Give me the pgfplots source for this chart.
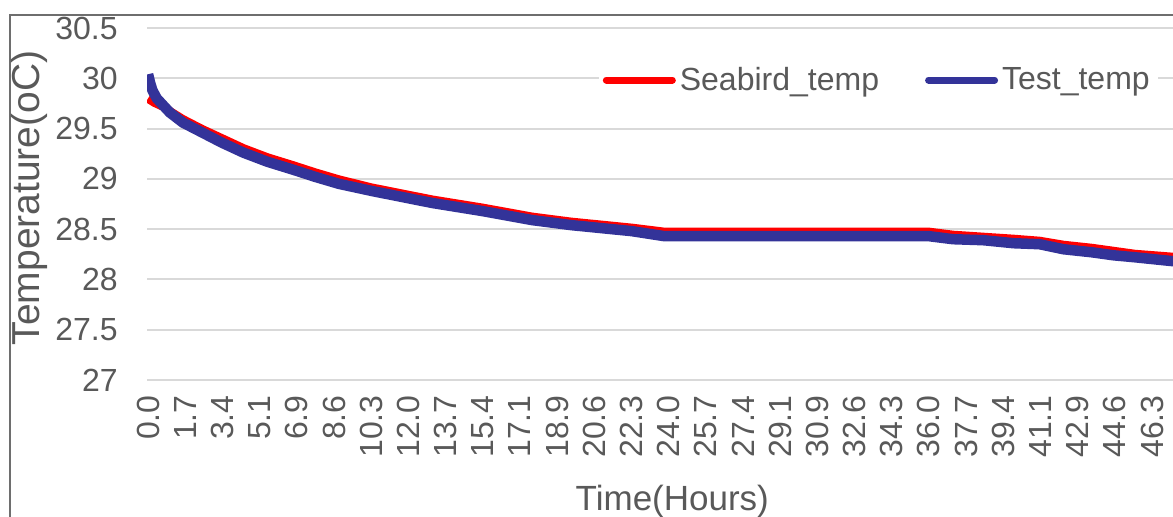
\documentclass[border=0pt]{standalone}
\usepackage{pgfplots}
\pgfplotsset{compat=1.18}
\usepackage{fontspec}
\setmainfont{Liberation Sans}
\definecolor{txt}{HTML}{595959}
\definecolor{gridc}{HTML}{D9D9D9}
\definecolor{sbred}{HTML}{FF0000}
\definecolor{tblue}{HTML}{333399}
\definecolor{framec}{HTML}{6E6E6E}
\begin{document}
\begin{tikzpicture}
\useasboundingbox (0,0) rectangle (586.5pt,258.5pt);
\clip (0,0) rectangle (586.5pt,258.5pt);
\draw[framec, line width=1pt] (5pt,-10pt) -- (5pt,251pt) -- (600pt,251pt);
\begin{axis}[
  at={(73.5pt,68.5pt)}, anchor=south west,
  scale only axis, width=513pt, height=176pt,
  xmin=-0.05, xmax=47.25, ymin=27, ymax=30.5,
  axis line style={draw=none},
  major tick length=0pt,
  ytick={27,27.5,28,28.5,29,29.5,30,30.5},
  yticklabels={27,27.5,28,28.5,29,29.5,30,30.5},
  xtick={0,1.7143,3.4286,5.1429,6.8571,8.5714,10.2857,12,13.7143,15.4286,17.1429,18.8571,20.5714,22.2857,24,25.7143,27.4286,29.1429,30.8571,32.5714,34.2857,36,37.7143,39.4286,41.1429,42.8571,44.5714,46.2857},
  xticklabels={0.0,1.7,3.4,5.1,6.9,8.6,10.3,12.0,13.7,15.4,17.1,18.9,20.6,22.3,24.0,25.7,27.4,29.1,30.9,32.6,34.3,36.0,37.7,39.4,41.1,42.9,44.6,46.3},
  ymajorgrids, major grid style={gridc, line width=1pt},
  tick label style={txt, font=\fontsize{16}{19}\selectfont},
  /pgf/number format/assume math mode=true,
  xticklabel style={rotate=90, anchor=east, inner sep=0pt},
  xticklabel shift=7.5pt,
  yticklabel style={anchor=east, inner sep=0pt},
  yticklabel shift=14.5pt,
  xlabel={Time(Hours)},
  ylabel={Temperature(oC)},
  xlabel style={at={(axis description cs:0.512,-0.298)}, anchor=north, txt, font=\fontsize{17.5}{20}\selectfont, inner sep=0pt},
  ylabel style={at={(axis description cs:-0.115,0.517)}, rotate=0, anchor=center, txt, font=\fontsize{19.5}{22}\selectfont, inner sep=0pt},
  legend columns=2,
  legend style={at={(axis description cs:0.44,0.852)}, anchor=west, draw=none, fill=white,
    font=\fontsize{16}{19}\selectfont, text=txt, inner sep=2pt,
    /tikz/every even column/.append style={column sep=21pt}},
  legend cell align=left,
  legend image code/.code={\draw[#1, line width=3.5pt, line cap=round] (0pt,0pt) -- (33pt,0pt);},
]
\addplot[sbred, line width=4.5pt, line join=round] coordinates {
(0,29.80) (0.3,29.76) (0.7,29.72) (1.0,29.67) (1.6,29.59) (2.5,29.49) (3.4,29.40) (4.4,29.30)
(5.5,29.21) (6.7,29.13) (7.7,29.06) (8.8,28.99) (10.3,28.91) (11.7,28.85) (13.1,28.79)
(15.4,28.71) (17.7,28.62) (19.5,28.57) (20.9,28.54) (22.3,28.51) (23.8,28.47) (30,28.47)
(36,28.47) (37.1,28.44) (39.9,28.40) (41.1,28.38) (42.2,28.34) (43.5,28.31) (44.5,28.28)
(45.5,28.25) (47.3,28.22)
};
\addlegendentry{Seabird\_temp}
\addplot[tblue, line width=5.25pt, line join=round] coordinates {
(0,30.04) (0.1,29.95) (0.2,29.88) (0.4,29.80) (0.7,29.73) (1.0,29.66) (1.6,29.56) (2.5,29.46)
(3.4,29.36) (4.4,29.26) (5.5,29.17) (6.7,29.09) (7.7,29.02) (8.8,28.95) (10.3,28.88)
(11.7,28.82) (13.1,28.76) (15.4,28.68) (17.7,28.59) (19.5,28.54) (20.9,28.51) (22.3,28.48)
(23.8,28.43) (30,28.43) (36,28.43) (37.1,28.40) (38.5,28.39) (39.9,28.36) (41.1,28.35)
(42.2,28.30) (43.5,28.27) (44.5,28.24) (45.5,28.22) (47.3,28.18)
};
\addlegendentry{Test\_temp}
\end{axis}
\end{tikzpicture}
\end{document}
